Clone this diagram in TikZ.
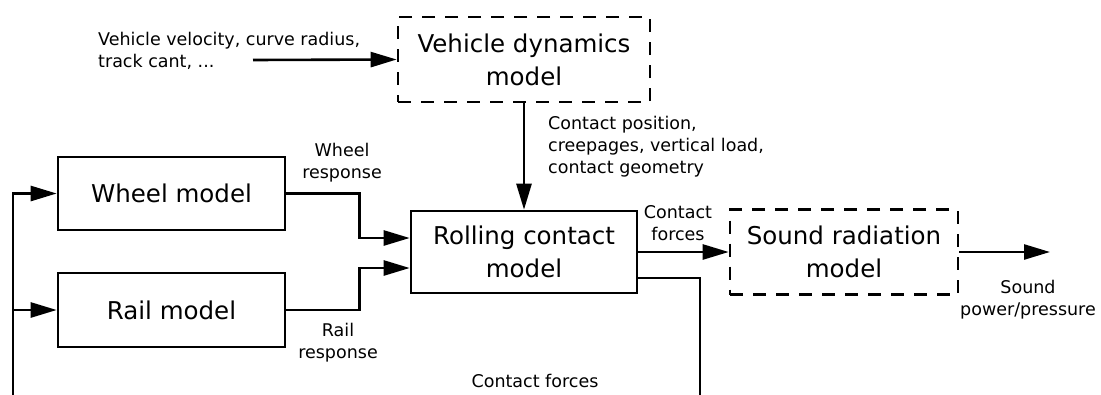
\documentclass[tikz,border=0pt]{standalone}
\usepackage{fontspec}
\setmainfont{DejaVu Sans}
\usetikzlibrary{arrows.meta}

\tikzset{
  blk/.style={draw, line width=2.6pt, rectangle, align=center, inner sep=0pt,
    font=\fontsize{24.5}{33}\selectfont},
  dblk/.style={blk, dash pattern=on 13pt off 10pt},
  lbl/.style={inner sep=0pt, font=\fontsize{17.5}{22}\selectfont},
  wire/.style={line width=2.6pt},
  arr/.style={wire, -{Triangle[length=26pt,width=15pt]}}
}

\begin{document}
\begin{tikzpicture}[x=1pt, y=-1pt]
      \useasboundingbox (0,0) rectangle (1101,394);
      \node[dblk, minimum width=252, minimum height=85] (VD) at (524,59.5) {Vehicle dynamics\\model};
      \node[blk, minimum width=227, minimum height=73] (W) at (171.5,193.5) {Wheel model};
      \node[blk, minimum width=227, minimum height=74] (R) at (171.5,310) {Rail model};
      \node[blk, minimum width=226, minimum height=82] (RC) at (524,252) {Rolling contact\\model};
      \node[dblk, minimum width=228, minimum height=85] (SR) at (844,252) {Sound radiation\\model};
      \coordinate (in) at (253,60);
      \coordinate (out) at (1050,252);
      \coordinate (fbr) at (700,396);
      \coordinate (fbl) at (13,396);
      \node[lbl, align=left, anchor=west] (Lin) at (98,51) {Vehicle velocity, curve radius,\\track cant, ...};
      \node[lbl, align=left, anchor=west] (Lcp) at (548,147) {Contact position,\\creepages, vertical load,\\contact geometry};
      \node[lbl, align=center] (Lwr) at (342,163) {Wheel\\response};
      \node[lbl, align=center] (Lrr) at (338,343) {Rail\\response};
      \node[lbl, align=center] (Lcf) at (678,223) {Contact\\forces};
      \node[lbl] (Lfb) at (535,381) {Contact forces};
      \node[lbl, align=center] (Lsp) at (1028,300) {Sound\\power/pressure};
      \draw[arr] (in) -- (VD.west);
      \draw[arr] (VD) -- (RC);
      \draw[arr] (W.east) -- ++(73,0) |- ([yshift=14pt]RC.west);
      \draw[arr] (R.east) -- ++(73,0) |- ([yshift=-16pt]RC.west);
      \draw[arr] (RC) -- (SR);
      \draw[arr] (SR) -- (out);
      \draw[wire] ([yshift=-26pt]RC.east) -| (fbr);
      \draw[arr] (fbl) |- (W.west);
      \draw[arr] (fbl |- R.west) -- (R.west);
    \end{tikzpicture}
\end{document}
